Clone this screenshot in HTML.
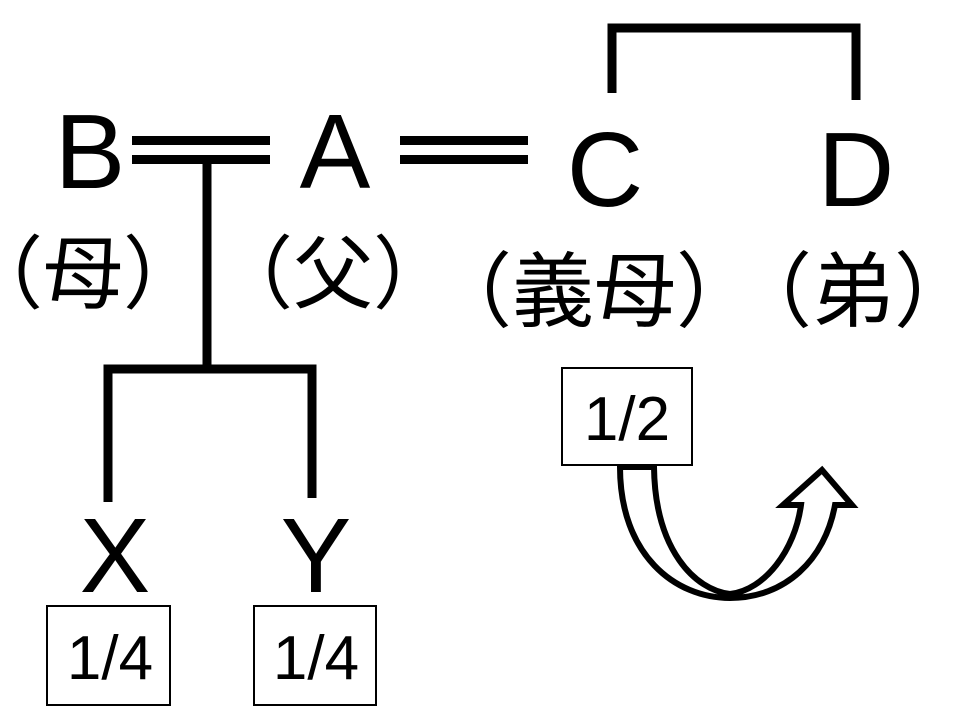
<!DOCTYPE html>
<html><head><meta charset="utf-8"><style>html,body{margin:0;padding:0;background:#fff}svg{display:block}</style></head>
<body>
<svg width="960" height="720" viewBox="0 0 960 720" xmlns="http://www.w3.org/2000/svg">
<g font-family="Liberation Sans, sans-serif" font-size="106" fill="#000" text-anchor="middle">
<text x="90" y="188">B</text>
<text x="335" y="188">A</text>
<text x="605" y="206">C</text>
<text x="856" y="206">D</text>
<text x="115" y="592">X</text>
<text x="316" y="592">Y</text>
</g>
<g font-family="'Noto Sans CJK JP', sans-serif" fill="#000" text-anchor="middle">
<text x="83" y="302" font-size="80">（母）</text>
<text x="333" y="302" font-size="80">（父）</text>
<text x="594" y="320" font-size="82">（義母）</text>
<text x="853" y="320" font-size="82">（弟）</text>
</g>
<g fill="#000">
<rect x="132" y="136" width="138" height="9"/>
<rect x="132" y="155" width="138" height="9"/>
<rect x="400" y="136" width="128" height="9"/>
<rect x="400" y="155" width="128" height="9"/>
</g>
<g stroke="#000" stroke-width="9" fill="none">
<path d="M207 160 V366"/>
<path d="M108 502 V369 H312 V498"/>
<path d="M612 93 V28 H856 V100"/>
</g>
<g stroke="#000" stroke-width="2" fill="#fff">
<rect x="47" y="606" width="123" height="99"/>
<rect x="254" y="606" width="122" height="99"/>
<rect x="562" y="368" width="130" height="97"/>
</g>
<g font-family="Liberation Sans, sans-serif" font-size="62" text-anchor="middle" fill="#000">
<text x="110" y="679">1/4</text>
<text x="316" y="679">1/4</text>
<text x="627" y="440">1/2</text>
</g>
<path d="M620 467 C620 555 675 598 730 598 C785 598 825 560 835 505 L852 505 L822 470 L783 505 L801 505 C795 550 765 590 730 594 C695 590 655 550 654 467 Z" fill="#fff" stroke="#000" stroke-width="6" stroke-linejoin="miter"/>
</svg>
</body></html>
